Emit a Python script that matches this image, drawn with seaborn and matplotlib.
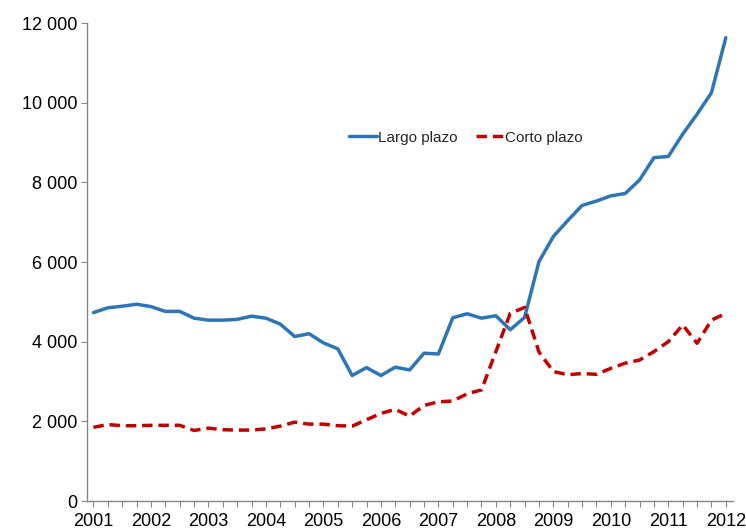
import matplotlib
matplotlib.use("Agg")
import matplotlib.pyplot as plt
from matplotlib.ticker import FuncFormatter, MultipleLocator
import seaborn as sns
import pandas as pd

years = ["2001", "2002", "2003", "2004", "2005", "2006",
         "2007", "2008", "2009", "2010", "2011", "2012"]

largo_plazo = [4730, 4850, 4890, 4940, 4880, 4760, 4760, 4590, 4540, 4540,
               4560, 4640, 4590, 4440, 4130, 4200, 3970, 3820, 3150, 3350,
               3150, 3360, 3290, 3710, 3690, 4600, 4700, 4590, 4650, 4300,
               4610, 6010, 6640, 7040, 7420, 7530, 7660, 7720, 8060, 8620,
               8650, 9210, 9710, 10250, 11630]

corto_plazo = [1850, 1920, 1890, 1890, 1900, 1900, 1900, 1770, 1830, 1790,
               1780, 1780, 1810, 1880, 1980, 1930, 1930, 1890, 1880, 2040,
               2200, 2300, 2130, 2400, 2490, 2510, 2690, 2790, 3750, 4710,
               4860, 3740, 3250, 3170, 3200, 3180, 3330, 3460, 3540, 3750,
               4000, 4420, 3960, 4540, 4710]

n = len(largo_plazo)
quarters = list(range(n))

df = pd.DataFrame({
    "t": quarters * 2,
    "valor": largo_plazo + corto_plazo,
    "serie": ["Largo plazo"] * n + ["Corto plazo"] * n,
})

sns.set_theme(style="white")
plt.rcParams["font.family"] = ["Liberation Sans", "DejaVu Sans"]

fig = plt.figure(figsize=(7.46, 5.29), dpi=100)
ax = fig.add_axes([87 / 746, 28 / 529, (733 - 87) / 746, (501 - 23) / 529])

palette = {"Largo plazo": "#2E75B6", "Corto plazo": "#C00000"}
dashes = {"Largo plazo": "", "Corto plazo": (3, 1.7)}
sns.lineplot(data=df, x="t", y="valor", hue="serie", style="serie",
             palette=palette, dashes=dashes, linewidth=2.5, ax=ax,
             legend=True)

ax.set_xlim(-0.45, 44.5)
ax.set_ylim(0, 12000)
ax.yaxis.set_major_locator(MultipleLocator(2000))
ax.yaxis.set_major_formatter(FuncFormatter(lambda v, p: f"{int(v):,}".replace(",", " ")))

ax.set_xticks(list(range(0, n, 4)))
ax.set_xticklabels(years)
ax.set_xticks(quarters, minor=True)
ax.tick_params(axis="x", which="major", length=4, width=0.8, color="#868686",
               labelsize=13, pad=5, labelcolor="black")
ax.tick_params(axis="x", which="minor", length=4, width=0.8, color="#868686")
ax.tick_params(axis="y", which="major", length=4, width=0.8, color="#868686",
               labelsize=13, pad=3, labelcolor="black", left=True)
ax.tick_params(axis="x", bottom=True, which="both", direction="out")

ax.set_xlabel("")
ax.set_ylabel("")
for s in ["top", "right"]:
    ax.spines[s].set_visible(False)
for s in ["left", "bottom"]:
    ax.spines[s].set_color("#868686")
    ax.spines[s].set_linewidth(1.0)
ax.grid(False)

leg = ax.legend(loc="center", bbox_to_anchor=(0.587, 0.76), ncol=2,
                frameon=False, fontsize=11, handlelength=1.8,
                handletextpad=0.1, columnspacing=1.2)
for line in leg.get_lines():
    line.set_linewidth(2.5)

fig.savefig("out.png", dpi=100)
